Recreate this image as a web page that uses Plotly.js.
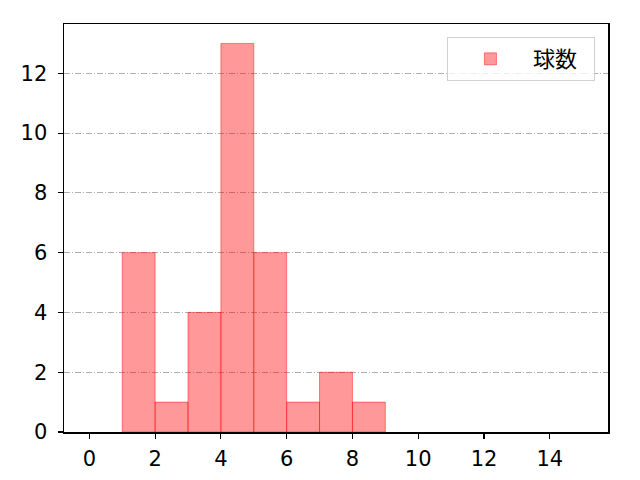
<!DOCTYPE html>
<html>
<head>
<meta charset="utf-8">
<script src="https://cdn.plot.ly/plotly-3.0.1.min.js"></script>
<style>
  html, body { margin: 0; padding: 0; background: #fff; }
  #chart { width: 640px; height: 480px; }
</style>
</head>
<body>
<div id="chart"></div>
<script>
// histogram bins (left edges, width 1) and counts
const binStarts = [1, 2, 3, 4, 5, 6, 7, 8];
const counts = [6, 1, 4, 13, 6, 1, 2, 1];
const seriesName = "球数";
const xTicks = [0, 2, 4, 6, 8, 10, 12, 14];
const yTicks = [0, 2, 4, 6, 8, 10, 12];

const FONT = "Noto Sans CJK JP, sans-serif";
const TICKFONT = "DejaVu Sans, sans-serif";

const traces = [{
  type: "bar",
  x: binStarts,
  y: counts,
  width: 1,
  offset: 0,
  name: seriesName,
  showlegend: true,
  marker: { color: "rgba(255,0,0,0.4)", line: { color: "rgba(255,0,0,0.45)", width: 1 } }
}];

const layout = {
  width: 640,
  height: 480,
  margin: { l: 64, r: 32, t: 24, b: 48 },
  paper_bgcolor: "#fff",
  plot_bgcolor: "#fff",
  font: { family: FONT, size: 20, color: "#000" },
  bargap: 0,
  xaxis: {
    range: [-0.77, 15.77],
    tickvals: xTicks,
    showgrid: false,
    showline: true, mirror: true, linecolor: "#000", linewidth: 1.5,
    ticks: "outside", ticklen: 5, tickwidth: 1.2, tickcolor: "#000",
    ticklabelstandoff: 2,
    zeroline: false,
    tickfont: { family: TICKFONT, size: 21, color: "#000" }
  },
  yaxis: {
    range: [0, 13.65],
    tickvals: yTicks,
    showgrid: true,
    gridcolor: "#b0b0b0",
    gridwidth: 1,
    griddash: "6px,2px,1px,2px",
    showline: true, mirror: true, linecolor: "#000", linewidth: 1.5,
    ticks: "outside", ticklen: 5, tickwidth: 1.2, tickcolor: "#000",
    ticklabelstandoff: 6,
    zeroline: false,
    tickfont: { family: TICKFONT, size: 21, color: "#000" }
  },
  legend: {
    orientation: "h",
    x: 0.976, y: 0.968, xanchor: "right", yanchor: "top",
    bgcolor: "rgba(255,255,255,0.8)",
    bordercolor: "#d0d0d0",
    borderwidth: 1,
    itemwidth: 75,
    entrywidth: 56,
    font: { family: FONT, size: 22, color: "#000" }
  }
};

Plotly.newPlot("chart", traces, layout, { displayModeBar: false, staticPlot: true });
</script>
</body>
</html>
